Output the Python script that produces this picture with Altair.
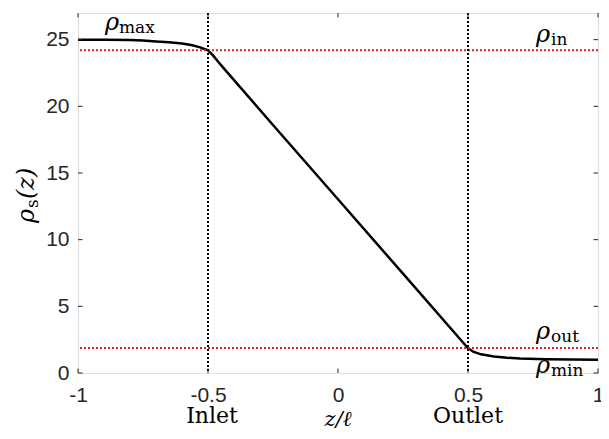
import altair as alt
import pandas as pd

# ---- data ----
z_vals = [-1.0, -0.9, -0.8, -0.75, -0.7, -0.65, -0.6, -0.56, -0.53, -0.5,
          -0.48, -0.46, -0.44, -0.25, 0.0, 0.25, 0.45, 0.48, 0.5,
          0.52, 0.55, 0.6, 0.65, 0.7, 0.8, 0.9, 1.0]
rho_vals = [25.0, 25.0, 24.97, 24.93, 24.87, 24.8, 24.71, 24.58, 24.42, 24.2,
            23.8, 23.33, 22.87, 18.6, 13.03, 7.45, 2.98, 2.31, 1.87,
            1.6, 1.4, 1.23, 1.14, 1.09, 1.04, 1.02, 1.0]

rho_max, rho_in, rho_out, rho_min = 25.0, 24.2, 1.87, 1.0
inlet_z, outlet_z = -0.5, 0.5
x_ticks = [-1, -0.5, 0, 0.5, 1]
y_ticks = [0, 5, 10, 15, 20, 25]

curve = pd.DataFrame({"z": z_vals, "rho": rho_vals})
hlines = pd.DataFrame({"rho": [rho_in, rho_out]})
vlines = pd.DataFrame({"z": [inlet_z, outlet_z]})
xt = pd.DataFrame({"z": x_ticks})
yt = pd.DataFrame({"rho": y_ticks})

W, H = 520, 360
xscale = alt.Scale(domain=[-1, 1], nice=False, zero=False)
yscale = alt.Scale(domain=[0, 27], nice=False)
INK = "#262626"
SERIF = "DejaVu Serif"

X = alt.X("z:Q", scale=xscale, title="",
          axis=alt.Axis(values=x_ticks, labelExpr="toString(datum.value)",
                        ticks=False, domain=False, grid=False, labelFlush=False,
                        labelFont="Liberation Sans", labelFontSize=21,
                        labelColor=INK, labelPadding=11, title=""))
Y = alt.Y("rho:Q", scale=yscale, title="",
          axis=alt.Axis(values=y_ticks, ticks=False, domain=False, grid=False,
                        labelFont="Liberation Sans", labelFontSize=21,
                        labelColor=INK, labelPadding=9, title=""))

main = alt.Chart(curve).mark_line(color="black", strokeWidth=2.5).encode(x=X, y=Y)

red = alt.Chart(hlines).mark_rule(color="#dd2222", strokeWidth=2, strokeDash=[2, 2]).encode(y=Y)

black_v = alt.Chart(vlines).mark_rule(color="black", strokeWidth=2, strokeDash=[2, 2]).encode(x=X)

TL = 4.5
tick_b = alt.Chart(xt).mark_rule(color=INK, strokeWidth=1).encode(
    x=X, y=alt.value(H), y2=alt.value(H - TL))
tick_t = alt.Chart(xt).mark_rule(color=INK, strokeWidth=1).encode(
    x=X, y=alt.value(0), y2=alt.value(TL))
tick_l = alt.Chart(yt).mark_rule(color=INK, strokeWidth=1).encode(
    y=Y, x=alt.value(0), x2=alt.value(TL))
tick_r = alt.Chart(yt).mark_rule(color=INK, strokeWidth=1).encode(
    y=Y, x=alt.value(W), x2=alt.value(W - TL))


def label(xv, yv, text, dx, dy, size, italic):
    df = pd.DataFrame({"z": [xv], "rho": [yv], "t": [text]})
    kw = dict(dx=dx, dy=dy, fontSize=size, font=SERIF, align="left",
              baseline="alphabetic", color="black")
    if italic:
        kw["fontStyle"] = "italic"
    return alt.Chart(df).mark_text(**kw).encode(x=X, y=Y, text="t:N")


def plabel(xv, ypx, text, dx, size, italic):
    df = pd.DataFrame({"z": [xv], "t": [text]})
    kw = dict(dx=dx, fontSize=size, font=SERIF, align="center",
              baseline="alphabetic", color="black")
    if italic:
        kw["fontStyle"] = "italic"
    return alt.Chart(df).mark_text(**kw).encode(x=X, y=alt.value(ypx), text="t:N")


def ytitle(text, dx, dy, size, italic):
    df = pd.DataFrame({"t": [text]})
    kw = dict(dx=dx, dy=dy, fontSize=size, font=SERIF, align="left",
              baseline="alphabetic", color="black", angle=270)
    if italic:
        kw["fontStyle"] = "italic"
    return alt.Chart(df).mark_text(**kw).encode(
        x=alt.value(-44), y=alt.value(181), text="t:N")


labels = [
    label(-1, rho_max, "ρ", 27, -10, 24, True),
    label(-1, rho_max, "max", 41, -7, 17, False),
    label(1, rho_in, "ρ", -62, -8, 24, True),
    label(1, rho_in, "in", -47, -5, 17, False),
    label(1, rho_out, "ρ", -62, -9, 24, True),
    label(1, rho_out, "out", -47, -6, 17, False),
    label(1, rho_min, "ρ", -62, 13, 24, True),
    label(1, rho_min, "min", -47, 16, 17, False),
    plabel(inlet_z, 410, "Inlet", 4, 22, False),
    plabel(outlet_z, 410, "Outlet", 0, 22, False),
    plabel(0, 413, "z/ℓ", 0, 21, True),
    ytitle("ρ", -29, 0, 24, True),
    ytitle("s", -14, 4, 17, False),
    ytitle("(z)", -5, 0, 24, True),
]

chart = alt.layer(main, red, black_v, tick_b, tick_t, tick_l, tick_r, *labels).properties(
    width=W, height=H,
    autosize=alt.AutoSizeParams(type="none"),
    padding={"left": 70, "top": 5, "right": 3, "bottom": 58},
).configure_view(stroke=INK, strokeWidth=1).configure(background="white")

chart.save("out.html", embed_options={"renderer": "svg", "actions": False})
